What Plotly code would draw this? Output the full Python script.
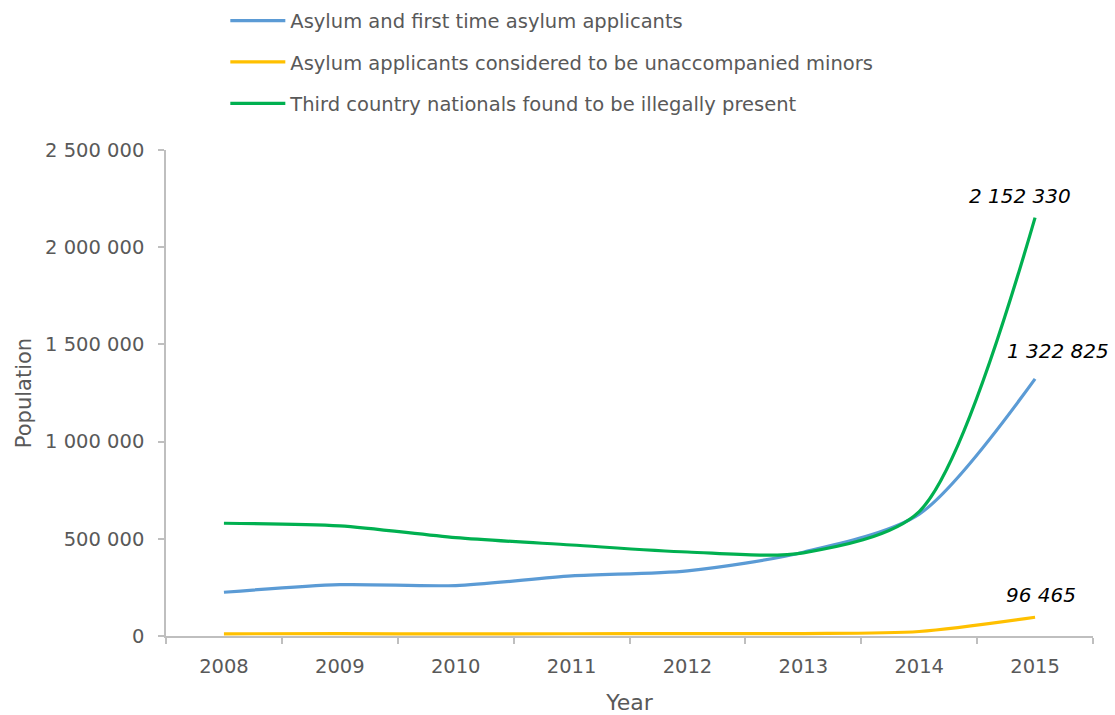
import plotly.graph_objects as go

years = ["2008", "2009", "2010", "2011", "2012", "2013", "2014", "2015"]
asylum = [225150, 263835, 259630, 309040, 335290, 431090, 626960, 1322825]
minors = [11300, 12000, 10600, 11700, 12600, 12700, 23150, 96465]
illegal = [580000, 567000, 506000, 468000, 432000, 428000, 640000, 2152330]

series_names = [
    "Asylum and first time asylum applicants",
    "Asylum applicants considered to be unaccompanied minors",
    "Third country nationals found to be illegally present",
]
colors = ["#5B9BD5", "#FFC000", "#00B050"]
end_labels = ["1 322 825", "96 465", "2 152 330"]
label_dx = [23, 6, -15]
label_dy = [14, 8, 8]

FONT = "DejaVu Sans"
GRAY = "#595959"

fig = go.Figure()
ann = []
for i, (name, vals, col, lab, dx, dy) in enumerate(
        zip(series_names, [asylum, minors, illegal], colors, end_labels, label_dx, label_dy)):
    fig.add_trace(go.Scatter(
        x=years, y=vals, name=name, mode="lines",
        line=dict(color=col, width=3.2, shape="spline", smoothing=0.8),
        legendgroup=f"g{i}",
    ))
    ann.append(dict(
        x=len(years) - 1, y=vals[-1], xref="x", yref="y", text=lab,
        showarrow=False, xanchor="center", yanchor="bottom",
        xshift=dx, yshift=dy,
        font=dict(family=FONT, size=20, color="#000000", style="italic"),
    ))

yt = [0, 500000, 1000000, 1500000, 2000000, 2500000]
yt_text = ["0", "500 000", "1 000 000", "1 500 000", "2 000 000", "2 500 000"]

fig.update_layout(
    width=1115, height=715,
    margin=dict(l=166, r=22, t=150, b=79, autoexpand=False),
    paper_bgcolor="white", plot_bgcolor="white",
    font=dict(family=FONT, size=20, color=GRAY),
    showlegend=True,
    annotations=ann,
    legend=dict(
        xref="paper", yref="container",
        x=0.064, y=0.998, xanchor="left", yanchor="top",
        orientation="v", traceorder="grouped", tracegroupgap=13,
        itemwidth=55,
        font=dict(family=FONT, size=19.5, color=GRAY),
        bgcolor="rgba(0,0,0,0)",
    ),
    xaxis=dict(
        type="category", range=[-0.5, 7.5], automargin=False,
        showline=True, linecolor="#BFBFBF", linewidth=1.5,
        ticks="outside", tickson="boundaries", ticklen=6, tickcolor="#BFBFBF", tickwidth=1.5,
        showgrid=False, zeroline=False,
        ticklabelstandoff=12,
        tickfont=dict(family=FONT, size=19.5, color=GRAY),
        title=dict(text="Year", font=dict(family=FONT, size=22, color=GRAY), standoff=18),
    ),
    yaxis=dict(
        range=[0, 2500000], tickvals=yt, ticktext=yt_text, automargin=False,
        showline=True, linecolor="#BFBFBF", linewidth=1.5,
        ticks="outside", ticklen=6, tickcolor="#BFBFBF", tickwidth=1.5,
        showgrid=False, zeroline=False,
        ticklabelstandoff=10,
        tickfont=dict(family=FONT, size=19.5, color=GRAY),
        title=dict(text="Population", font=dict(family=FONT, size=21, color=GRAY), standoff=8),
    ),
)

fig.write_html("out.html")
